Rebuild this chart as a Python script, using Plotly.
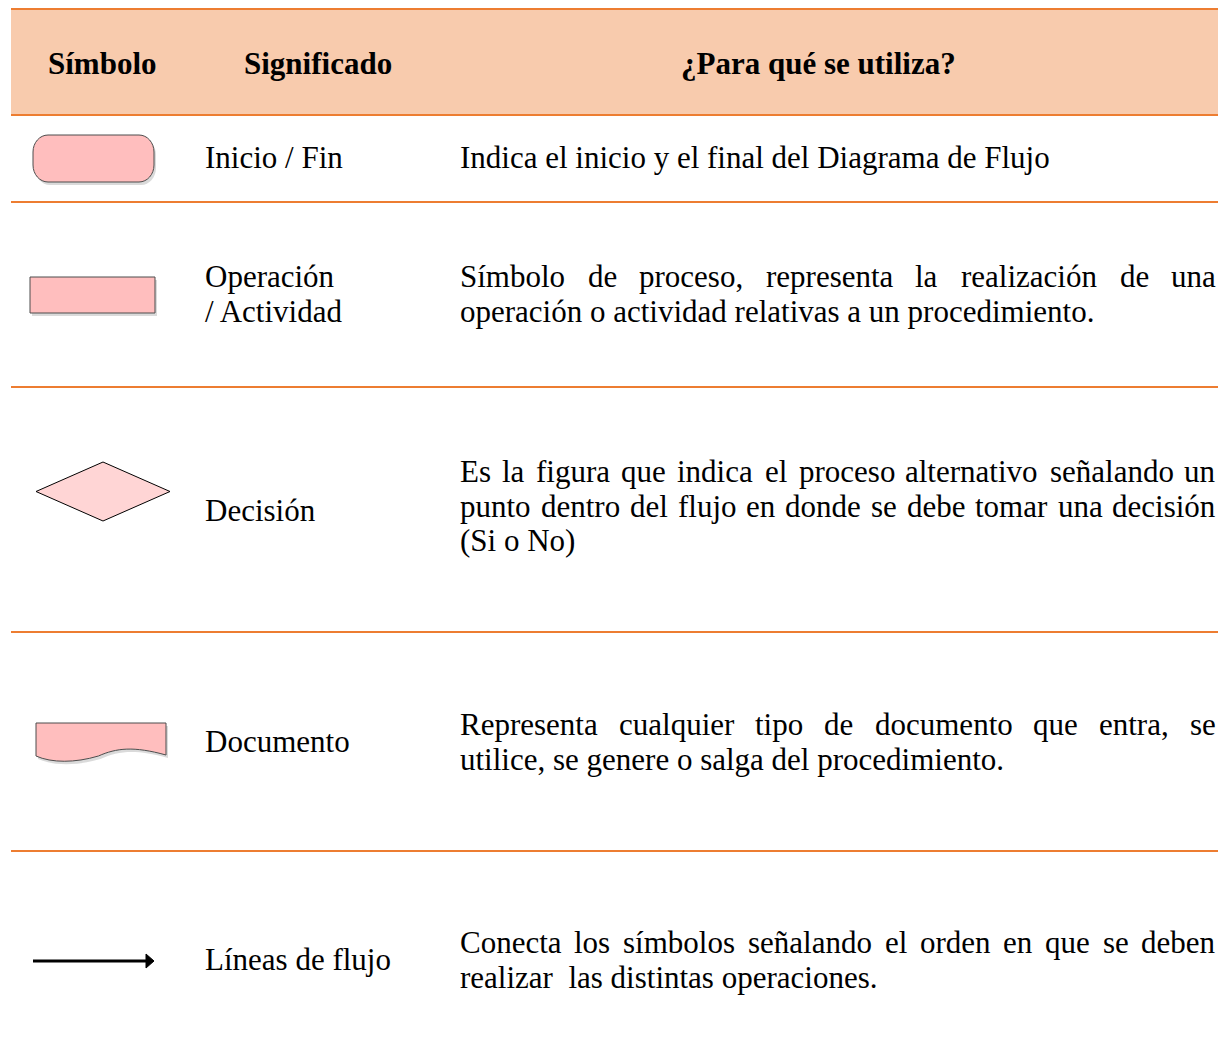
import plotly.graph_objects as go

# ---------------- data ----------------
header = ["Símbolo", "Significado", "¿Para qué se utiliza?"]
symbols = ["terminal", "process", "decision", "document", "flowline"]
meanings = [
    ["Inicio / Fin"],
    ["Operación", "/ Actividad"],
    ["Decisión"],
    ["Documento"],
    ["Líneas de flujo"],
]
descriptions = [
    ["Indica el inicio y el final del Diagrama de Flujo"],
    ["Símbolo de proceso, representa la realización de una",
     "operación o actividad relativas a un procedimiento."],
    ["Es la figura que indica el proceso alternativo señalando un",
     "punto dentro del flujo en donde se debe tomar una decisión",
     "(Si o No)"],
    ["Representa cualquier tipo de documento que entra, se",
     "utilice, se genere o salga del procedimiento."],
    ["Conecta los símbolos señalando el orden en que se deben",
     "realizar\u00a0 las distintas operaciones."],
]

# ---------------- layout geometry ----------------
W, H = 1226, 1063
OFF = 8  # page body margin
FONT = "Liberation Serif, Times New Roman, serif"
FS = 31
ORANGE = "#ED7D31"
HEAD_FILL = "#F8CBAD"
PINK = "#FFBEBE"
PINK_TOP = "#FFCBCB"
PINK_LIGHT = "#FFD5D5"

table_left, table_right = 11, W
rule_y = [9, 115, 202, 387, 632, 851]
header_baseline = 74
header_x = [102, 318, 818]
meaning_x = 205
desc_left, desc_right = 460, 1216
line_gap = 34.5
desc_first_baseline = [168, 287, 482, 735, 953]
meaning_first_baseline = [168, 287, 521, 752, 970]
symbol_cy = [158.5, 295, 491.5, 740, 961]
BASE_K = 0.33  # baseline offset relative to text middle (in em)

# Times / Liberation Serif widths (per 1000 em)
TW = {' ': 250, ',': 250, '.': 250, '/': 278, '(': 333, ')': 333, '?': 444, '¿': 444,
      'A': 722, 'C': 667, 'D': 722, 'E': 611, 'F': 556, 'I': 333, 'L': 611, 'N': 722,
      'O': 722, 'R': 667, 'S': 556,
      'a': 444, 'b': 500, 'c': 444, 'd': 500, 'e': 444, 'f': 333, 'g': 500, 'h': 500,
      'i': 278, 'j': 278, 'k': 500, 'l': 278, 'm': 778, 'n': 500, 'o': 500, 'p': 500,
      'q': 500, 'r': 333, 's': 389, 't': 278, 'u': 500, 'v': 500, 'w': 722, 'x': 500,
      'y': 500, 'z': 444, 'á': 444, 'é': 444, 'í': 278, 'ó': 500, 'ú': 500, 'ñ': 500}


def tw(s, fs):
    return sum(TW.get(ch, 500) for ch in s) / 1000.0 * fs


fig = go.Figure()
shapes = []
annotations = []

# header background and rules
shapes.append(dict(type="rect", x0=table_left, x1=table_right + 20, y0=rule_y[0], y1=rule_y[1],
                   fillcolor=HEAD_FILL, line=dict(width=0), layer="below"))
for y in rule_y:
    shapes.append(dict(type="line", x0=table_left, x1=table_right + 20, y0=y, y1=y,
                       line=dict(color=ORANGE, width=2)))


def add_text(text, x, baseline, xanchor="left", bold=False):
    annotations.append(dict(
        x=x, y=baseline - BASE_K * FS, xref="x", yref="y",
        text=("<b>%s</b>" % text) if bold else text,
        showarrow=False, xanchor=xanchor, yanchor="middle",
        borderpad=0, borderwidth=0,
        font=dict(family=FONT, size=FS, color="black")))


# header text
for hx, ht in zip(header_x, header):
    add_text(ht, hx, header_baseline, xanchor="center", bold=True)

# meaning column
for lines, b0 in zip(meanings, meaning_first_baseline):
    for i, ln in enumerate(lines):
        add_text(ln, meaning_x, b0 + i * line_gap)

# description column (justified)
for lines, b0 in zip(descriptions, desc_first_baseline):
    for i, ln in enumerate(lines):
        b = b0 + i * line_gap
        last = (i == len(lines) - 1)
        words = ln.split(" ")
        if last or len(words) < 2:
            add_text(ln, desc_left, b)
            continue
        widths = [tw(w, FS) for w in words]
        gap = (desc_right - desc_left - sum(widths)) / (len(words) - 1)
        n = len(words)
        half = n // 2
        x = desc_left
        for j in range(half):
            add_text(words[j], x, b)
            x += widths[j] + gap
        x = desc_right
        for j in range(n - 1, half - 1, -1):
            add_text(words[j], x, b, xanchor="right")
            x -= widths[j] + gap


# ---------------- symbols ----------------
def rounded_path(x0, y0, x1, y1, rx, ry):
    k = 0.5523
    return (f"M{x0+rx},{y0} L{x1-rx},{y0} "
            f"C{x1-rx+rx*k},{y0} {x1},{y0+ry-ry*k} {x1},{y0+ry} "
            f"L{x1},{y1-ry} "
            f"C{x1},{y1-ry+ry*k} {x1-rx+rx*k},{y1} {x1-rx},{y1} "
            f"L{x0+rx},{y1} "
            f"C{x0+rx-rx*k},{y1} {x0},{y1-ry+ry*k} {x0},{y1-ry} "
            f"L{x0},{y0+ry} "
            f"C{x0},{y0+ry-ry*k} {x0+rx-rx*k},{y0} {x0+rx},{y0} Z")


def doc_path(x0, y0, x1, ybot, dx=0, dy=0):
    x0 += dx; x1 += dx; y0 += dy; ybot += dy
    w = x1 - x0
    return (f"M{x0},{y0} L{x1},{y0} L{x1},{ybot-1} "
            f"C{x1-0.25*w},{ybot-10} {x0+0.62*w},{ybot-8} {x0+0.48*w},{ybot} "
            f"C{x0+0.3*w},{ybot+7} {x0+0.12*w},{ybot+7} {x0},{ybot} Z")


for sym, cy in zip(symbols, symbol_cy):
    if sym == "terminal":
        x0, x1, h = 33, 154, 47
        y0, y1 = cy - h / 2, cy + h / 2
        shapes.append(dict(type="path", path=rounded_path(x0 + 2, y0 + 3, x1 + 2, y1 + 3, 15, 17),
                           fillcolor="rgba(150,150,150,0.35)", line=dict(width=0)))
        shapes.append(dict(type="path", path=rounded_path(x0, y0, x1, y1, 15, 17),
                           fillcolor=PINK, line=dict(color="#4D4D4D", width=1)))
    elif sym == "process":
        x0, x1, h = 30, 155, 36
        y0, y1 = cy - h / 2, cy + h / 2
        shapes.append(dict(type="rect", x0=x0 + 2, x1=x1 + 2, y0=y0 + 3, y1=y1 + 3,
                           fillcolor="rgba(150,150,150,0.35)", line=dict(width=0)))
        shapes.append(dict(type="rect", x0=x0, x1=x1, y0=y0, y1=y1,
                           fillcolor=PINK, line=dict(color="#4D4D4D", width=1)))
    elif sym == "decision":
        xl, xr, hh = 36, 170, 29.5
        xc = (xl + xr) / 2
        shapes.append(dict(type="path",
                           path=f"M{xl},{cy} L{xc},{cy-hh} L{xr},{cy} L{xc},{cy+hh} Z",
                           fillcolor=PINK_LIGHT, line=dict(color="black", width=1)))
    elif sym == "document":
        x0, x1, y0, yb = 36, 166, cy - 17, cy + 16
        shapes.append(dict(type="path", path=doc_path(x0, y0, x1, yb, 2, 3),
                           fillcolor="rgba(150,150,150,0.35)", line=dict(width=0)))
        shapes.append(dict(type="path", path=doc_path(x0, y0, x1, yb),
                           fillcolor=PINK, line=dict(color="#4D4D4D", width=1)))
    elif sym == "flowline":
        x0, x1 = 33, 154
        shapes.append(dict(type="line", x0=x0, x1=x1 - 6, y0=cy, y1=cy,
                           line=dict(color="black", width=3)))
        shapes.append(dict(type="path",
                           path=f"M{x1-8},{cy-7} L{x1},{cy} L{x1-8},{cy+7} Z",
                           fillcolor="black", line=dict(color="black", width=1)))

# figure is placed by the page at (OFF, OFF); map data units 1:1 onto page pixels
fig.update_layout(
    width=W - OFF, height=H - 2 * OFF,
    margin=dict(l=0, r=0, t=0, b=0),
    paper_bgcolor="white", plot_bgcolor="white",
    xaxis=dict(range=[OFF, W], visible=False, fixedrange=True),
    yaxis=dict(range=[H - OFF, OFF], visible=False, fixedrange=True),
    shapes=shapes, annotations=annotations, showlegend=False,
)

fig.write_html("out.html")
